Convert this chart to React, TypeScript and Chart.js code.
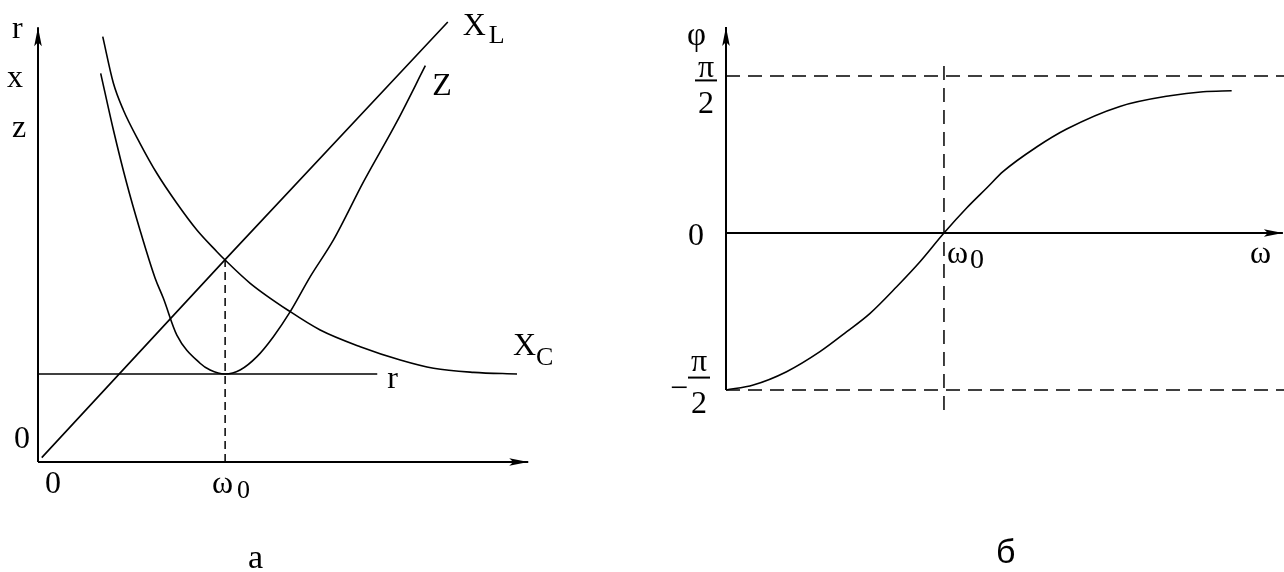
import React, { useEffect, useRef } from "react";
import { Chart, registerables } from "chart.js";

Chart.register(...registerables);

const HALF_PI = Math.PI / 2;

// ---------- panel "а": r, x, z versus ω (ω in units of ω0, values in units of r) ----------
const XL_W = [0.02, 1.0, 2.19];
const XL_V = [0.05, 2.3, 5.0];

const XC_W = [0.346, 0.403, 0.456, 0.545, 0.635, 0.742, 0.849, 0.956, 1.0, 1.134, 1.348, 1.508, 1.722, 1.936, 2.114, 2.328, 2.56];
const XC_V = [4.833, 4.303, 4.0, 3.622, 3.281, 2.94, 2.636, 2.39, 2.295, 2.031, 1.708, 1.5, 1.31, 1.159, 1.065, 1.019, 1.0];

const Z_W = [0.335, 0.403, 0.474, 0.545, 0.626, 0.67, 0.742, 0.866, 0.92, 1.0, 1.08, 1.17, 1.258, 1.348, 1.455, 1.579, 1.74, 1.918, 2.07];
const Z_V = [4.417, 3.773, 3.167, 2.636, 2.088, 1.86, 1.443, 1.122, 1.045, 1.0, 1.045, 1.197, 1.424, 1.708, 2.106, 2.523, 3.185, 3.867, 4.503];

const R_W = [0, 1.813];
const R_V = [1, 1];

const W0_A_W = [1, 1];
const W0_A_V = [0, 2.3];

const A_X_AXIS = [0, 2.62];
const A_Y_AXIS = [0, 4.94];

const A_Y_TITLES = ["r", "x", "z"];
const A_TICKS = ["0", "ω"];
const A_SERIES = ["X", "Z", "X", "r"];
const A_SUBS = ["L", "C", "0"];
const A_CAPTION = "а";

// ---------- panel "б": φ versus ω ----------
const PHI_W = [0, 0.125, 0.278, 0.431, 0.554, 0.661, 0.783, 0.89, 1.0, 1.104, 1.196, 1.272, 1.425, 1.563, 1.807, 2.037, 2.189, 2.32];
const PHI_V = [-1.57, -1.52, -1.387, -1.187, -0.987, -0.803, -0.537, -0.287, 0, 0.25, 0.45, 0.616, 0.86, 1.04, 1.266, 1.373, 1.413, 1.423];

const B_X_AXIS = [0, 2.555];
const B_Y_AXIS = [-HALF_PI, 2.06];
const LIMIT_W = [0, 2.56];
const W0_B_W = [1, 1];
const W0_B_V = [-1.77, 1.75];

const B_LABELS = ["φ", "π", "2", "0", "ω", "−"];
const B_CAPTION = "б";

const SERIF = '"Liberation Serif", "Times New Roman", serif';
const SANS = '"Liberation Sans", Arial, sans-serif';

const pts = (xs: number[], ys: number[]) => xs.map((x, i) => ({ x, y: ys[i] }));

function arrowHead(ctx: CanvasRenderingContext2D, x: number, y: number, dir: "up" | "right") {
  const len = 19;
  const half = 3.8;
  const notch = 4;
  ctx.beginPath();
  if (dir === "right") {
    ctx.moveTo(x, y);
    ctx.lineTo(x - len, y - half);
    ctx.lineTo(x - len + notch, y);
    ctx.lineTo(x - len, y + half);
  } else {
    ctx.moveTo(x, y);
    ctx.lineTo(x - half, y + len);
    ctx.lineTo(x, y + len - notch);
    ctx.lineTo(x + half, y + len);
  }
  ctx.closePath();
  ctx.fill();
}

function text(
  ctx: CanvasRenderingContext2D,
  s: string,
  x: number,
  y: number,
  size: number,
  family = SERIF,
  align: CanvasTextAlign = "left"
) {
  ctx.font = `${size}px ${family}`;
  ctx.textAlign = align;
  ctx.textBaseline = "alphabetic";
  ctx.fillText(s, x, y);
}

function hline(ctx: CanvasRenderingContext2D, x1: number, x2: number, y: number, w = 2) {
  ctx.beginPath();
  ctx.lineWidth = w;
  ctx.moveTo(x1, y);
  ctx.lineTo(x2, y);
  ctx.stroke();
}

const curve = (data: { x: number; y: number }[], extra: any = {}) => ({
  data,
  borderColor: "#000",
  borderWidth: 1.6,
  pointRadius: 0,
  fill: false,
  clip: false,
  tension: 0,
  ...extra,
});

const annA = {
  id: "annA",
  afterDatasetsDraw(chart: any) {
    const ctx: CanvasRenderingContext2D = chart.ctx;
    const X = (v: number) => chart.scales.x.getPixelForValue(v);
    const Y = (v: number) => chart.scales.y.getPixelForValue(v);
    const x0 = X(0);
    const y0 = Y(0);
    const yTop = Y(A_Y_AXIS[1]);
    ctx.save();
    ctx.fillStyle = "#000";
    ctx.strokeStyle = "#000";
    arrowHead(ctx, X(A_X_AXIS[1]), y0, "right");
    arrowHead(ctx, x0, yTop, "up");

    // axis titles
    text(ctx, A_Y_TITLES[0], x0 - 26, yTop + 11, 32);
    text(ctx, A_Y_TITLES[1], x0 - 31, yTop + 60, 32);
    text(ctx, A_Y_TITLES[2], x0 - 26, yTop + 110, 32);

    // ticks
    text(ctx, A_TICKS[0], x0 - 24, y0 - 14, 32);
    text(ctx, A_TICKS[0], x0 + 7, y0 + 31, 32);
    const wx = X(W0_A_W[0]);
    text(ctx, A_TICKS[1], wx - 13, y0 + 31, 32);
    text(ctx, A_SUBS[2], wx + 12, y0 + 36, 26);

    // series labels
    const xlx = X(XL_W[XL_W.length - 1]);
    const xly = Y(XL_V[XL_V.length - 1]);
    text(ctx, A_SERIES[0], xlx + 15, xly + 13, 32);
    text(ctx, A_SUBS[0], xlx + 41, xly + 21, 26);

    const zx = X(Z_W[Z_W.length - 1]);
    const zy = Y(Z_V[Z_V.length - 1]);
    text(ctx, A_SERIES[1], zx + 7, zy + 29, 32);

    const cx = X(XC_W[XC_W.length - 1]);
    const cy = Y(XC_V[XC_V.length - 1]);
    text(ctx, A_SERIES[2], cx - 4, cy - 19, 32);
    text(ctx, A_SUBS[1], cx + 19, cy - 9, 26);

    const rx = X(R_W[1]);
    const ry = Y(R_V[1]);
    text(ctx, A_SERIES[3], rx + 10, ry + 14, 32);

    text(ctx, A_CAPTION, 248, 568, 34);
    ctx.restore();
  },
};

const annB = {
  id: "annB",
  afterDatasetsDraw(chart: any) {
    const ctx: CanvasRenderingContext2D = chart.ctx;
    const X = (v: number) => chart.scales.x.getPixelForValue(v);
    const Y = (v: number) => chart.scales.y.getPixelForValue(v);
    const x0 = X(0);
    const y0 = Y(0);
    const yTop = Y(B_Y_AXIS[1]);
    const yHi = Y(HALF_PI);
    const yLo = Y(-HALF_PI);
    ctx.save();
    ctx.fillStyle = "#000";
    ctx.strokeStyle = "#000";
    arrowHead(ctx, X(B_X_AXIS[1]), y0, "right");
    arrowHead(ctx, x0, yTop, "up");

    text(ctx, B_LABELS[0], x0 - 39, yTop + 18, 33);

    // +π/2
    const fc = x0 - 20;
    text(ctx, B_LABELS[1], fc, yHi + 1, 32, SERIF, "center");
    hline(ctx, fc - 11, fc + 11, yHi + 4.5, 2);
    text(ctx, B_LABELS[2], fc, yHi + 37, 32, SERIF, "center");

    // 0
    text(ctx, B_LABELS[3], x0 - 38, y0 + 12, 32);

    // ω0 and ω
    const wx = X(W0_B_W[0]);
    text(ctx, B_LABELS[4], wx + 3, y0 + 30, 32);
    text(ctx, B_LABELS[3], wx + 26, y0 + 35, 28);
    text(ctx, B_LABELS[4], X(B_X_AXIS[1]) - 33, y0 + 30, 32);

    // −π/2
    const lc = x0 - 27;
    text(ctx, B_LABELS[5], lc - 29, yLo + 8, 32);
    text(ctx, B_LABELS[1], lc, yLo - 19, 32, SERIF, "center");
    hline(ctx, lc - 11, lc + 11, yLo - 12.5, 2);
    text(ctx, B_LABELS[2], lc, yLo + 23, 32, SERIF, "center");

    text(ctx, B_CAPTION, x0 + 270, 563, 34, SANS);
    ctx.restore();
  },
};

function makeA(canvas: HTMLCanvasElement) {
  return new Chart(canvas, {
    type: "line",
    data: {
      datasets: [
        curve(pts([A_X_AXIS[0], A_X_AXIS[1]], [0, 0]), { borderWidth: 2 }),
        curve(pts([0, 0], A_Y_AXIS), { borderWidth: 2 }),
        curve(pts(XL_W, XL_V)),
        curve(pts(XC_W, XC_V), { cubicInterpolationMode: "monotone" }),
        curve(pts(Z_W, Z_V), { cubicInterpolationMode: "monotone" }),
        curve(pts(R_W, R_V)),
        curve(pts(W0_A_W, W0_A_V), { borderDash: [8, 5], borderWidth: 1.5 }),
      ] as any,
    },
    options: {
      animation: false,
      responsive: false,
      devicePixelRatio: 1,
      layout: { padding: { left: 38, right: 110, top: 22, bottom: 110 } },
      plugins: { legend: { display: false }, tooltip: { enabled: false } },
      events: [],
      scales: {
        x: { type: "linear", min: 0, max: 2.64, display: false },
        y: { type: "linear", min: 0, max: 5, display: false },
      },
    },
    plugins: [annA],
  } as any);
}

function makeB(canvas: HTMLCanvasElement) {
  return new Chart(canvas, {
    type: "line",
    data: {
      datasets: [
        curve(pts(B_X_AXIS, [0, 0]), { borderWidth: 2 }),
        curve(pts([0, 0], B_Y_AXIS), { borderWidth: 2 }),
        curve(pts(LIMIT_W, [HALF_PI, HALF_PI]), { borderDash: [14, 8], borderWidth: 1.5 }),
        curve(pts(LIMIT_W, [-HALF_PI, -HALF_PI]), { borderDash: [14, 8], borderWidth: 1.5 }),
        curve(pts(W0_B_W, W0_B_V), { borderDash: [14, 8], borderWidth: 1.5 }),
        curve(pts(PHI_W, PHI_V), { cubicInterpolationMode: "monotone" }),
      ] as any,
    },
    options: {
      animation: false,
      responsive: false,
      devicePixelRatio: 1,
      layout: { padding: { left: 84, right: 0, top: 27, bottom: 159 } },
      plugins: { legend: { display: false }, tooltip: { enabled: false } },
      events: [],
      scales: {
        x: { type: "linear", min: 0, max: 2.56, display: false },
        y: { type: "linear", min: -1.8, max: 2.06, display: false },
      },
    },
    plugins: [annB],
  } as any);
}

function Panel({ left, make }: { left: number; make: (c: HTMLCanvasElement) => Chart }) {
  const ref = useRef<HTMLCanvasElement | null>(null);
  useEffect(() => {
    if (!ref.current) return;
    const chart = make(ref.current);
    return () => chart.destroy();
  }, [make]);
  return (
    <canvas
      ref={ref}
      width={642}
      height={572}
      style={{ position: "absolute", left, top: 0, width: 642, height: 572, display: "block" }}
    />
  );
}

export default function App() {
  return (
    <div
      style={{
        position: "fixed",
        left: 0,
        top: 0,
        width: 1284,
        height: 572,
        background: "#ffffff",
        overflow: "hidden",
      }}
    >
      <Panel left={0} make={makeA} />
      <Panel left={642} make={makeB} />
    </div>
  );
}
